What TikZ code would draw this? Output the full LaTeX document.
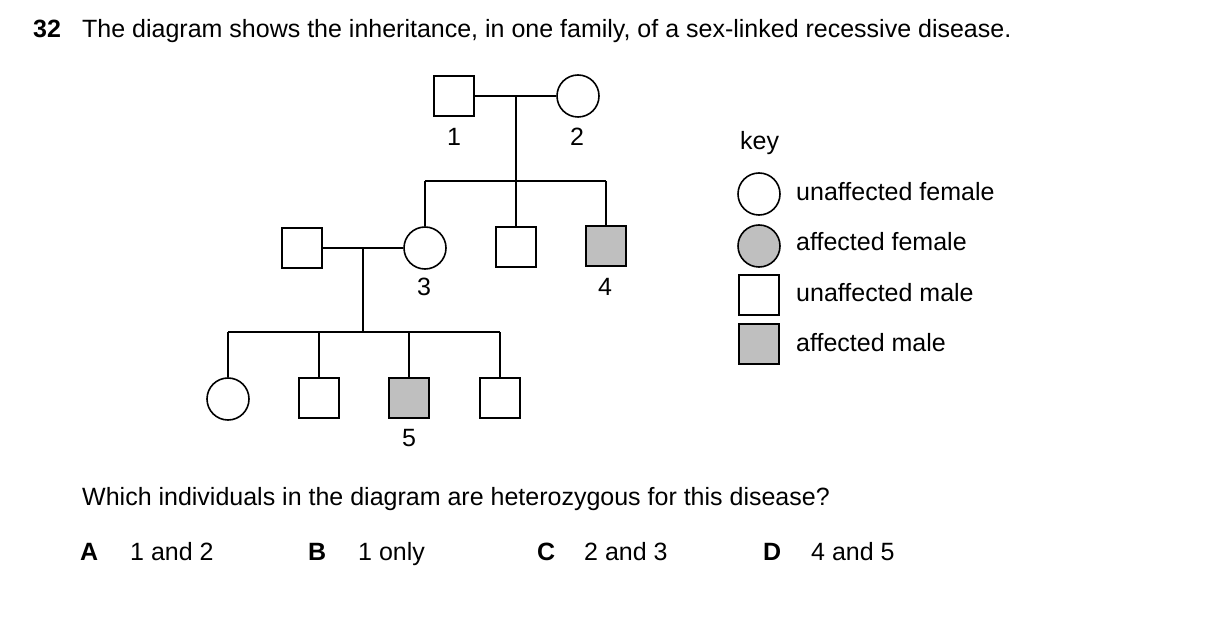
\documentclass[tikz,border=0pt]{standalone}
\usepackage{fontspec}
\setmainfont{Liberation Sans}
\begin{document}
\begin{tikzpicture}[x=1pt,y=-1pt,
  ln/.style={line width=1.6pt},
  sq/.style={draw,line width=1.6pt,minimum size=40pt,inner sep=0pt,fill=white},
  ci/.style={draw,line width=1.6pt,circle,minimum size=42pt,inner sep=0pt,fill=white},
  aff/.style={fill=black!25},
  tx/.style={font=\fontsize{25}{30}\selectfont,inner sep=0pt,anchor=west,text height=18pt,text depth=5pt},
  bf/.style={tx,font=\fontsize{25}{30}\selectfont\bfseries},
  lb/.style={font=\fontsize{25}{30}\selectfont,inner sep=0pt}]
\useasboundingbox (0,0) rectangle (1209,617);
\node[bf] (q) at (33,31) {32};
\node[tx] (t) at (82,31) {The diagram shows the inheritance, in one family, of a sex-linked recessive disease.};
% generation I
\node[sq] (p1) at (454,96) {};
\node[ci] (p2) at (578,96) {};
\coordinate (m1) at (516,96);
\coordinate (b1) at (516,181);
\coordinate (l1) at (425,181);
\coordinate (r1) at (606,181);
\node[ci] (p3) at (425,248) {};
\node[sq] (p6) at (516,247) {};
\node[sq,aff] (p4) at (606,246) {};
\node[sq] (p7) at (302,248) {};
\draw[ln] (p1) -- (p2);
\draw[ln] (m1) -- (b1);
\draw[ln] (l1) -- (r1);
\draw[ln] (l1) -- (p3);
\draw[ln] (b1) -- (p6);
\draw[ln] (r1) -- (p4);
\draw[ln] (p7) -- (p3);
\coordinate (m2) at (363,248);
\coordinate (b2) at (363,332);
\coordinate (l2) at (228,332);
\coordinate (r2) at (500,332);
\coordinate (c2) at (319,332);
\coordinate (d2) at (409,332);
\draw[ln] (m2) -- (b2);
\draw[ln] (l2) -- (r2);
\node[ci] (g1) at (228,399) {};
\node[sq] (g2) at (319,398) {};
\node[sq,aff] (p5) at (409,398) {};
\node[sq] (g4) at (500,398) {};
\draw[ln] (l2) -- (g1);
\draw[ln] (c2) -- (g2);
\draw[ln] (d2) -- (p5);
\draw[ln] (r2) -- (g4);
\node[lb] (n1) at (454,137) {1};
\node[lb] (n2) at (577,137) {2};
\node[lb] (n3) at (424,287) {3};
\node[lb] (n4) at (605,287) {4};
\node[lb] (n5) at (409,438) {5};
% key
\node[tx] (key) at (740,143) {key};
\node[ci] (k1) at (759,194) {};
\node[ci,aff] (k2) at (759,246) {};
\node[sq] (k3) at (759,295) {};
\node[sq,aff] (k4) at (759,344) {};
\node[tx] (kt1) at (796,194) {unaffected female};
\node[tx] (kt2) at (796,244) {affected female};
\node[tx] (kt3) at (796,295) {unaffected male};
\node[tx] (kt4) at (796,345) {affected male};
% question
\node[tx] (qq) at (82,499) {Which individuals in the diagram are heterozygous for this disease?};
\node[bf] (oa) at (80,554) {A};
\node[tx] (ta) at (130,554) {1 and 2};
\node[bf] (ob) at (308,554) {B};
\node[tx] (tb) at (358,554) {1 only};
\node[bf] (oc) at (537,554) {C};
\node[tx] (tc) at (584,554) {2 and 3};
\node[bf] (od) at (763,554) {D};
\node[tx] (td) at (811,554) {4 and 5};
\end{tikzpicture}
\end{document}
